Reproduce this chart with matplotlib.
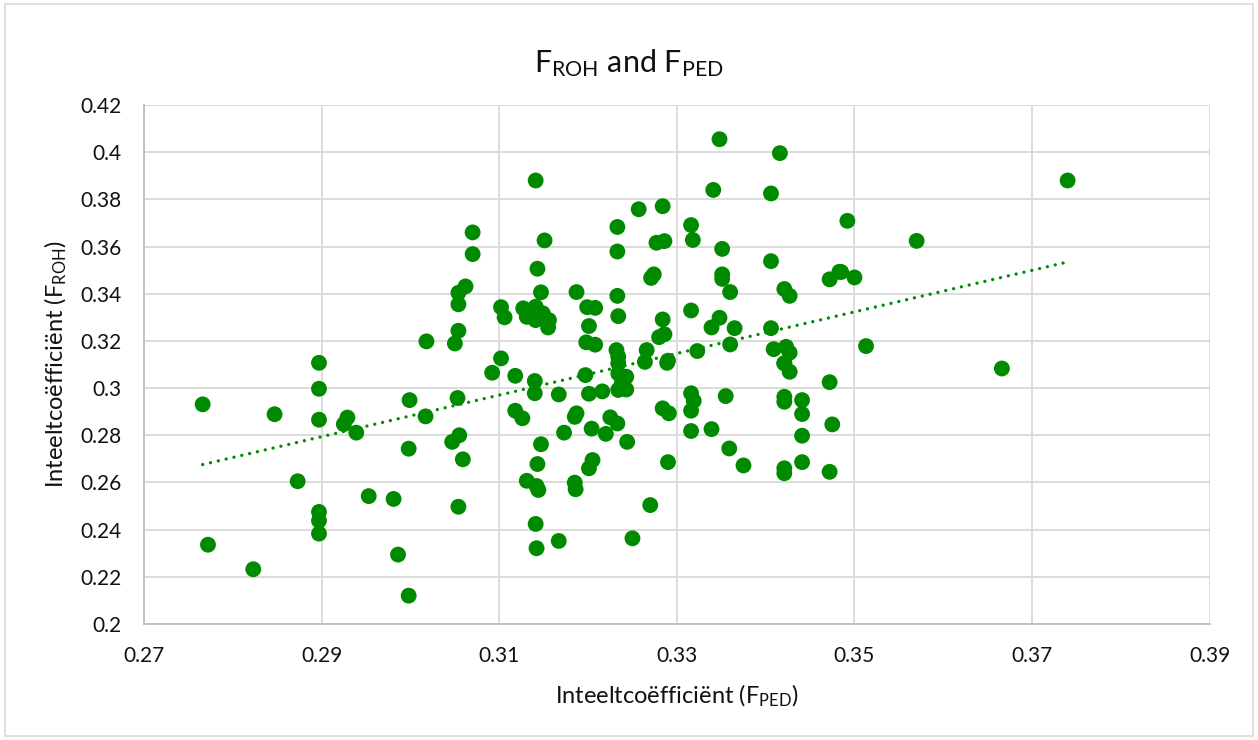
import numpy as np
import matplotlib.pyplot as plt
from matplotlib.patches import Rectangle
from matplotlib.ticker import FuncFormatter

plt.rcParams['font.family'] = ['Lato', 'DejaVu Sans']
plt.rcParams['mathtext.fontset'] = 'custom'
plt.rcParams['mathtext.rm'] = 'Lato'

# F_PED (x) and F_ROH (y)
f_ped = [0.2766, 0.2847, 0.2897, 0.2897, 0.2897, 0.2929, 0.2925, 0.2939, 0.2999, 0.3017,
         0.3053, 0.3055, 0.3047, 0.3059, 0.3092, 0.2998, 0.2873, 0.2953, 0.2981, 0.3054,
         0.2897, 0.2897, 0.2897, 0.2772, 0.2823, 0.2986, 0.2998,
         0.3070, 0.3070, 0.3062, 0.3054, 0.3054, 0.3054, 0.3018, 0.3050,
         0.3141, 0.3151, 0.3143, 0.3147, 0.3102, 0.3106, 0.3127, 0.3131, 0.3141, 0.3141,
         0.3149, 0.3156, 0.3155, 0.3187, 0.3199, 0.3208, 0.3201, 0.3198, 0.3208,
         0.3233, 0.3233, 0.3233, 0.3234, 0.3232, 0.3234, 0.3257, 0.3284, 0.3277, 0.3286,
         0.3271, 0.3274, 0.3284, 0.3280, 0.3286, 0.3266, 0.3290, 0.3323, 0.3316, 0.3318,
         0.3348, 0.3341, 0.3351, 0.3351, 0.3351, 0.3360, 0.3316, 0.3339, 0.3348, 0.3365,
         0.3360, 0.3416, 0.3406, 0.3406, 0.3421, 0.3427, 0.3406, 0.3409, 0.3423, 0.3427,
         0.3421, 0.3472, 0.3483, 0.3492, 0.3570, 0.3485, 0.3500, 0.3740, 0.3513, 0.3666,
         0.3102, 0.3118, 0.3140, 0.3140, 0.3167, 0.3197, 0.3201, 0.3216, 0.3234, 0.3234,
         0.3243, 0.3234, 0.3243, 0.3238, 0.3264, 0.3289, 0.3118, 0.3126, 0.3147, 0.3143,
         0.3131, 0.3142, 0.3144, 0.3141, 0.3142, 0.3167, 0.3173, 0.3187, 0.3185, 0.3204,
         0.3205, 0.3201, 0.3185, 0.3186, 0.3220, 0.3225, 0.3233, 0.3244, 0.3270, 0.3250,
         0.3284, 0.3291, 0.3290, 0.3316, 0.3319, 0.3316, 0.3316, 0.3339, 0.3355, 0.3359,
         0.3375, 0.3421, 0.3427, 0.3421, 0.3421, 0.3441, 0.3441, 0.3441, 0.3441, 0.3421,
         0.3421, 0.3472, 0.3475, 0.3472]
f_roh = [0.2931, 0.2889, 0.3107, 0.2997, 0.2866, 0.2875, 0.2847, 0.2811, 0.2949, 0.2880,
         0.2958, 0.2800, 0.2772, 0.2698, 0.3065, 0.2743, 0.2605, 0.2542, 0.2530, 0.2497,
         0.2475, 0.2438, 0.2383, 0.2336, 0.2232, 0.2294, 0.2120,
         0.3660, 0.3568, 0.3431, 0.3404, 0.3355, 0.3243, 0.3198, 0.3189,
         0.3880, 0.3626, 0.3506, 0.3406, 0.3343, 0.3300, 0.3338, 0.3302, 0.3345, 0.3288,
         0.3317, 0.3288, 0.3257, 0.3407, 0.3343, 0.3340, 0.3263, 0.3194, 0.3184,
         0.3683, 0.3579, 0.3391, 0.3305, 0.3161, 0.3133, 0.3758, 0.3771, 0.3616, 0.3623,
         0.3467, 0.3482, 0.3291, 0.3216, 0.3228, 0.3161, 0.3116, 0.3157, 0.3691, 0.3628,
         0.4055, 0.3840, 0.3590, 0.3482, 0.3463, 0.3407, 0.3329, 0.3257, 0.3298, 0.3254,
         0.3185, 0.3996, 0.3825, 0.3538, 0.3420, 0.3391, 0.3254, 0.3165, 0.3175, 0.3150,
         0.3105, 0.3461, 0.3493, 0.3709, 0.3624, 0.3492, 0.3469, 0.3880, 0.3178, 0.3083,
         0.3126, 0.3052, 0.3030, 0.2978, 0.2973, 0.3055, 0.2976, 0.2986, 0.3105, 0.3062,
         0.3048, 0.2992, 0.2994, 0.3020, 0.3111, 0.3107, 0.2904, 0.2872, 0.2762, 0.2678,
         0.2607, 0.2585, 0.2568, 0.2424, 0.2321, 0.2352, 0.2811, 0.2893, 0.2878, 0.2828,
         0.2695, 0.2660, 0.2599, 0.2571, 0.2806, 0.2876, 0.2850, 0.2772, 0.2504, 0.2363,
         0.2914, 0.2893, 0.2686, 0.2978, 0.2946, 0.2904, 0.2818, 0.2826, 0.2966, 0.2744,
         0.2672, 0.3105, 0.3069, 0.2963, 0.2942, 0.2949, 0.2890, 0.2798, 0.2686, 0.2660,
         0.2639, 0.3025, 0.2846, 0.2645]

x_ticks = [0.27, 0.29, 0.31, 0.33, 0.35, 0.37, 0.39]
y_ticks = [0.20, 0.22, 0.24, 0.26, 0.28, 0.30, 0.32, 0.34, 0.36, 0.38, 0.40, 0.42]

green = '#008a00'
grid_col = '#d9d9d9'
text_col = '#111111'

fig = plt.figure(figsize=(12.58, 7.40), dpi=100)
ax = fig.add_axes([0.1145, 0.1568, 0.8471, 0.7013])

x = np.array(f_ped)
y = np.array(f_roh)
ax.scatter(x, y, s=130, color=green, edgecolors='none', zorder=3)

# linear trendline over the data range
k, b = np.polyfit(x, y, 1)
xt = np.linspace(x.min(), x.max(), 50)
ax.plot(xt, k * xt + b, color=green, lw=2.4, linestyle=(0, (0.01, 2.4)),
        dash_capstyle='round', zorder=2)

ax.set_xlim(0.27, 0.39)
ax.set_ylim(0.2, 0.42)
ax.set_xticks(x_ticks)
ax.set_yticks(y_ticks)
fmt = FuncFormatter(lambda v, p: '%g' % round(v, 2))
ax.xaxis.set_major_formatter(fmt)
ax.yaxis.set_major_formatter(fmt)
ax.grid(True, color=grid_col, lw=1.3, zorder=0)
ax.set_axisbelow(True)
ax.tick_params(length=0, labelsize=15, colors=text_col, pad=16)
for s in ['top', 'right']:
    ax.spines[s].set_visible(False)
for s in ['left', 'bottom']:
    ax.spines[s].set_color('#bfbfbf')
    ax.spines[s].set_linewidth(1.3)

ax.set_xlabel(r'Inteeltcoëfficiënt ($\mathregular{F_{PED}}$)', fontsize=17, color=text_col, labelpad=12)
ax.set_ylabel(r'Inteeltcoëfficiënt ($\mathregular{F_{ROH}}$)', fontsize=17, color=text_col, labelpad=8)
fig.text(0.5, 0.915, r'$\mathregular{F_{ROH}}$ and $\mathregular{F_{PED}}$', ha='center', va='center',
         fontsize=22, color=text_col)

fig.patches.append(Rectangle((0.004, 0.006), 0.992, 0.988, transform=fig.transFigure,
                             fill=False, edgecolor=grid_col, lw=1.2))

fig.savefig('out.png', dpi=100)
